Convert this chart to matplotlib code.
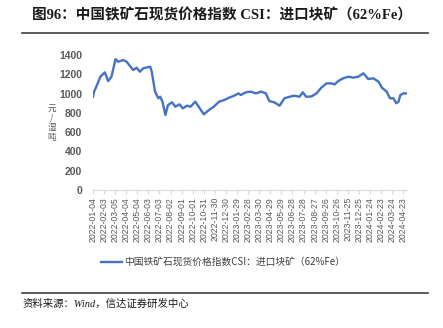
import matplotlib
matplotlib.use("Agg")
import matplotlib.pyplot as plt
import matplotlib.dates as mdates
import pandas as pd

plt.rcParams["font.family"] = ["Noto Sans CJK SC", "DejaVu Sans"]

# CSI imported lump ore (62% Fe), yuan per wet ton
dates = [
    "2022-01-04", "2022-01-07", "2022-01-13", "2022-01-24", "2022-02-05",
    "2022-02-14", "2022-02-23", "2022-03-06", "2022-03-13", "2022-03-27",
    "2022-04-05", "2022-04-23", "2022-05-02", "2022-05-11", "2022-05-20",
    "2022-06-08", "2022-06-12", "2022-06-21", "2022-06-30", "2022-07-05",
    "2022-07-11", "2022-07-19", "2022-07-26", "2022-08-06", "2022-08-15",
    "2022-08-26", "2022-09-04", "2022-09-15", "2022-09-25", "2022-10-08",
    "2022-10-17", "2022-10-31", "2022-11-14", "2022-11-27", "2022-12-11",
    "2022-12-25", "2023-01-07", "2023-01-21", "2023-02-02", "2023-02-08",
    "2023-02-22", "2023-03-07", "2023-03-21", "2023-04-04", "2023-04-17",
    "2023-04-26", "2023-05-10", "2023-05-24", "2023-06-06", "2023-06-20",
    "2023-07-03", "2023-07-17", "2023-07-26", "2023-08-04", "2023-08-18",
    "2023-09-01", "2023-09-14", "2023-09-28", "2023-10-11", "2023-10-20",
    "2023-10-30", "2023-11-12", "2023-11-26", "2023-12-09", "2023-12-23",
    "2024-01-06", "2024-01-19", "2024-02-02", "2024-02-16", "2024-02-25",
    "2024-03-09", "2024-03-18", "2024-03-27", "2024-04-04", "2024-04-10",
    "2024-04-15", "2024-04-24", "2024-05-03",
]
prices = [
    967, 1020, 1071, 1175, 1220,
    1130, 1175, 1358, 1330, 1348,
    1330, 1244, 1268, 1227, 1262,
    1279, 1227, 1020, 951, 967,
    916, 778, 881, 909, 864,
    888, 847, 874, 864, 916,
    864, 785, 830, 864, 916,
    933, 957, 978, 1002, 985,
    1013, 1020, 1002, 1020, 1002,
    923, 909, 874, 951, 967,
    978, 967, 1013, 967, 970,
    1002, 1061, 1106, 1106, 1095,
    1130, 1158, 1175, 1165, 1175,
    1210, 1151, 1158, 1123, 1061,
    1020, 951, 951, 899, 916,
    985, 1002, 1002,
]
y_ticks = [0, 200, 400, 600, 800, 1000, 1200, 1400]
unit_label = "元/湿吨"
series_name = "中国铁矿石现货价格指数CSI：进口块矿（62%Fe）"

x = pd.to_datetime(dates)
tick_dates = pd.date_range("2022-01-04", "2024-04-23", freq="30D")

W, H = 443, 328
fig = plt.figure(figsize=(W / 100, H / 100), dpi=100)
ax = fig.add_axes([93 / W, (H - 190) / H, (407 - 93) / W, (190 - 55) / H])

ax.plot(x, prices, color="#4472C4", linewidth=1.7, solid_joinstyle="round")
ax.set_xlim(x[0], x[-1])
ax.set_ylim(0, 1400)
ax.set_yticks(y_ticks)
ax.set_xticks(tick_dates)
ax.xaxis.set_major_formatter(mdates.DateFormatter("%Y-%m-%d"))

for s in ("left", "right", "top"):
    ax.spines[s].set_visible(False)
ax.spines["bottom"].set_color("#D9D9D9")
ax.spines["bottom"].set_linewidth(0.8)
ax.tick_params(axis="y", length=0, pad=8, labelsize=7.5, labelcolor="#595959")
ax.tick_params(axis="x", length=3, color="#D9D9D9", pad=2, labelsize=6.3,
               labelcolor="#595959", labelrotation=90)
for lbl in ax.get_xticklabels():
    lbl.set_family(["Liberation Sans", "DejaVu Sans"])
for lbl in ax.get_yticklabels():
    lbl.set_family(["Liberation Sans", "DejaVu Sans"])
    lbl.set_fontweight("bold")

# y axis unit, one upright character per line
fig.text(52 / W, 1 - 123 / H, "\n".join(unit_label), ha="center", va="center",
         fontsize=6.2, color="#595959", linespacing=1.12)

# title and rules
fig.text(32 / W, 1 - 15 / H, "图96：中国铁矿石现货价格指数 CSI：进口块矿（62%Fe）",
         ha="left", va="center", fontsize=10.5, fontweight="bold",
         family=["Liberation Serif", "Noto Sans CJK SC"], color="#1a1a1a")
fig.add_artist(plt.Line2D([22 / W, 428 / W], [1 - 33 / H, 1 - 33 / H],
                          color="#404040", linewidth=1.2))
fig.add_artist(plt.Line2D([22 / W, 428 / W], [1 - 293 / H, 1 - 293 / H],
                          color="#404040", linewidth=1.2))

# legend
leg = ax.legend([series_name], loc="center", frameon=False,
                fontsize=7, handlelength=2.2, handletextpad=0.2)
leg.set_bbox_to_anchor((223 / W, 1 - 262 / H), transform=fig.transFigure)
for t in leg.get_texts():
    t.set_color("#404040")
    t.set_family(["Noto Sans CJK SC", "Liberation Sans"])

fig.text(23 / W, 1 - 304 / H, "资料来源：Wind，信达证券研发中心", ha="left", va="center",
         fontsize=7.5, style="italic", family=["Liberation Serif", "Noto Sans CJK SC"],
         color="#1a1a1a")

fig.savefig("out.png", dpi=100)
